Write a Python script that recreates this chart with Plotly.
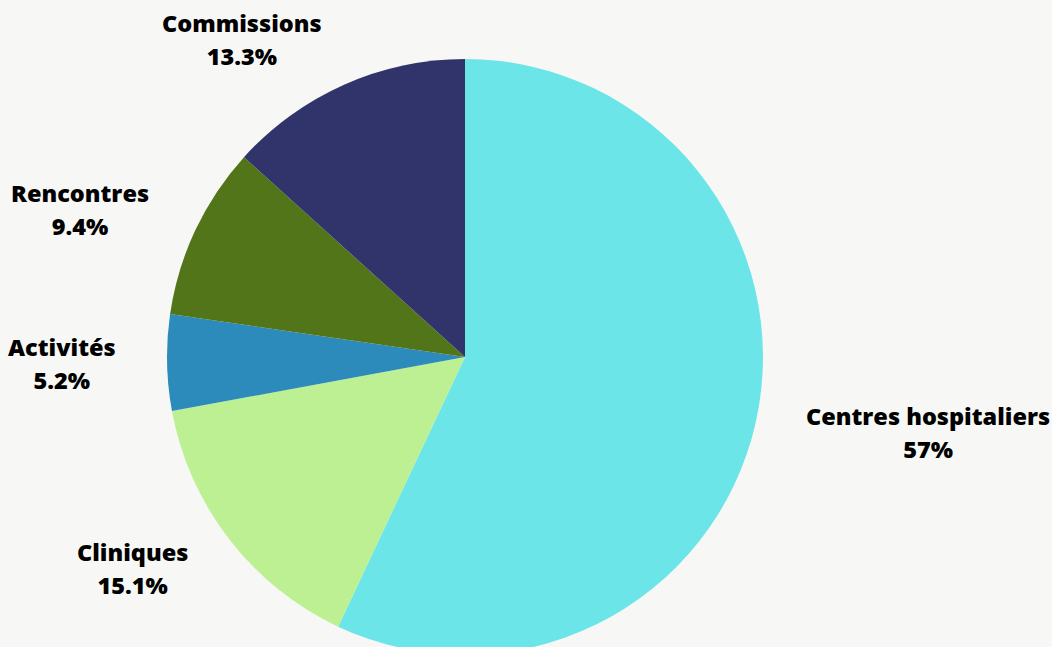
import math
import plotly.graph_objects as go

labels = ["Centres hospitaliers", "Cliniques", "Activités", "Rencontres", "Commissions"]
values = [57, 15.1, 5.2, 9.4, 13.3]
pct_text = ["57%", "15.1%", "5.2%", "9.4%", "13.3%"]
colors = ["#6be5e8", "#bdf093", "#2c8bba", "#527519", "#31346b"]

W, H = 1052, 660
CX, CY, R = 465, 357, 298      # pie centre / radius in pixels
LABEL_GAP = 49
FONT = "Open Sans"
FS = 23.5
LINE_PX = 32.5

fig = go.Figure(go.Pie(
    labels=labels,
    values=values,
    sort=False,
    direction="clockwise",
    rotation=0,
    marker=dict(colors=colors, line=dict(width=0)),
    textinfo="none",
    hoverinfo="label+percent",
    showlegend=False,
    domain=dict(x=[(CX - R) / W, (CX + R) / W], y=[1 - (CY + R) / H, 1 - (CY - R) / H]),
))

total = sum(values)
cum = 0
annotations = []
for lab, v, pt in zip(labels, values, pct_text):
    mid = (cum + v / 2) / total * 2 * math.pi
    cum += v
    px = CX + (R + LABEL_GAP) * math.sin(mid)
    py = CY - (R + LABEL_GAP) * math.cos(mid)
    right = math.sin(mid) >= 0
    sty = f"font-size:{FS}px;font-weight:800"
    text = f"<span style='{sty}'>{lab}</span><br><span style='{sty}'>{pt}</span>"
    annotations.append(dict(
        x=px / W, y=1 - py / H, xref="paper", yref="paper",
        text=text, showarrow=False,
        xanchor="left" if right else "right", yanchor="middle",
        align="center",
        font=dict(family=FONT, size=LINE_PX / 1.3, color="#000000", weight=800),
    ))

fig.update_layout(
    width=W, height=H,
    margin=dict(l=0, r=0, t=0, b=0),
    paper_bgcolor="#f7f8f5",
    plot_bgcolor="#f7f8f5",
    annotations=annotations,
)

fig.write_html("out.html", config={"displayModeBar": False},
               post_script="document.body.style.margin='0';document.body.style.overflow='hidden';")
